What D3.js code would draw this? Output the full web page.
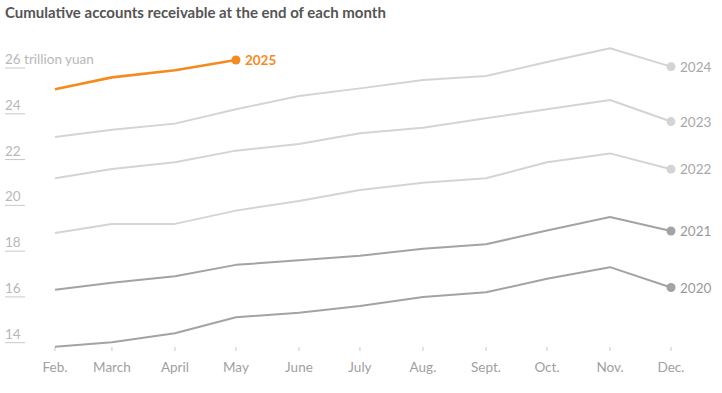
<!DOCTYPE html>
<html><head><meta charset="utf-8">
<script src="https://cdn.jsdelivr.net/npm/d3@7"></script>
<style>
body{margin:0;background:#fff;}
svg{display:block;font-family:Lato,"Open Sans",sans-serif;}
</style></head>
<body><svg id="c" width="722" height="393"></svg>
<script>
const months = ["Feb.","March","April","May","June","July","Aug.","Sept.","Oct.","Nov.","Dec."];
const monthIndex = [1,2,3,4,5,6,7,8,9,10,11];
const yTicks = [14,16,18,20,22,24,26];
const s2020 = [13.82,14.02,14.41,15.11,15.31,15.6,16.0,16.2,16.79,17.3,16.41];
const s2021 = [16.31,16.62,16.9,17.4,17.6,17.8,18.1,18.3,18.9,19.49,18.88];
const s2022 = [18.79,19.19,19.19,19.77,20.19,20.67,20.99,21.18,21.88,22.27,21.58];
const s2023 = [21.18,21.59,21.88,22.39,22.68,23.15,23.39,23.8,24.2,24.6,23.66];
const s2024 = [22.99,23.3,23.57,24.2,24.78,25.11,25.48,25.65,26.26,26.86,26.06];
const s2025 = [25.07,25.59,25.9,26.35];
const seriesNames = ["2020","2021","2022","2023","2024","2025"];

const series = [
  {name:"2020", values:s2020, color:"#a3a3a3", text:"#9a9a9a", w:2},
  {name:"2021", values:s2021, color:"#a3a3a3", text:"#9a9a9a", w:2},
  {name:"2022", values:s2022, color:"#d4d4d4", text:"#a8a8a8", w:2},
  {name:"2023", values:s2023, color:"#d4d4d4", text:"#a8a8a8", w:2},
  {name:"2024", values:s2024, color:"#d4d4d4", text:"#a8a8a8", w:2},
  {name:"2025", values:s2025, color:"#f58a1f", text:"#f58a1f", w:2.6}
];
const dates = monthIndex.map(m => new Date(2021, m, 1));

const svg = d3.select("#c");
const x = d3.scaleTime().domain([dates[0], dates[dates.length-1]]).range([55, 671]);
const y = d3.scaleLinear().domain([14, 26]).range([342.7, 68]);

svg.append("text").attr("x",5).attr("y",18).attr("fill","#555")
  .attr("font-size",15).attr("font-weight",700).text("Cumulative accounts receivable at the end of each month");

// y axis ticks
const yg = svg.append("g");
yTicks.forEach(t => {
  yg.append("line").attr("x1",5).attr("x2",25).attr("y1",y(t)).attr("y2",y(t))
    .attr("stroke","#c8c8c8").attr("stroke-width",1);
  yg.append("text").attr("x",5).attr("y",y(t)-4).attr("fill","#b8b8b8").attr("font-size",13.5)
    .text(t === 26 ? "26 trillion yuan" : t);
});

// x axis
const xg = svg.append("g");
dates.forEach((d,i) => {
  xg.append("line").attr("x1",x(d)).attr("x2",x(d)).attr("y1",347).attr("y2",351)
    .attr("stroke","#c8c8c8");
  xg.append("text").attr("x",x(d)).attr("y",372).attr("text-anchor","middle")
    .attr("fill","#a0a0a0").attr("font-size",13.5).text(months[i]);
});

const line = d3.line().x((v,i)=>x(dates[i])).y(v=>y(v));
series.forEach(s => {
  svg.append("path").attr("d", line(s.values)).attr("fill","none")
    .attr("stroke", s.color).attr("stroke-width", s.w).attr("stroke-linejoin","round");
  const li = s.values.length - 1;
  const cx = x(dates[li]), cy = y(s.values[li]);
  svg.append("circle").attr("cx",cx).attr("cy",cy).attr("r",4.5).attr("fill",s.color);
  svg.append("text").attr("x",cx+9).attr("y",cy+5).attr("fill",s.text)
    .attr("font-size",13.5).attr("font-weight", s.name==="2025"?700:400).text(s.name);
});
</script></body></html>
